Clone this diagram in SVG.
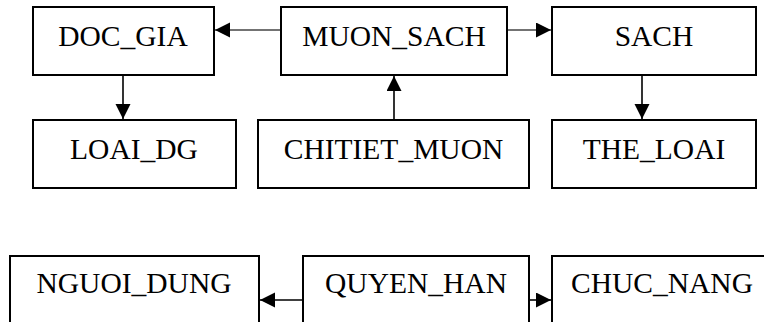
<svg xmlns="http://www.w3.org/2000/svg" width="764" height="322" viewBox="0 0 764 322">
  <style>
    .box { fill: #ffffff; stroke: #000000; stroke-width: 2; }
    .lbl { font-family: "Liberation Serif", "Times New Roman", serif; font-size: 29.5px; fill: #000000; text-anchor: middle; }
    .link { fill: none; stroke: #000000; stroke-width: 1.6; }
    .link.soft { stroke: #444444; }
  </style>
  <defs>
    <marker id="arrow" markerUnits="userSpaceOnUse" markerWidth="16" markerHeight="16" refX="15" refY="7.5" orient="auto">
      <path d="M0,0 L15,7.5 L0,15 Z" fill="#000000"/>
    </marker>
  </defs>
  <rect width="764" height="322" fill="#ffffff"/>

  <!-- connectors -->
  <g id="connectors">
    <line class="link soft" x1="281" y1="30" x2="215" y2="30" marker-end="url(#arrow)"/>
    <line class="link soft" x1="507" y1="30" x2="551" y2="30" marker-end="url(#arrow)"/>
    <line class="link" x1="123" y1="75" x2="123" y2="119" marker-end="url(#arrow)"/>
    <line class="link" x1="394" y1="120" x2="394" y2="76" marker-end="url(#arrow)"/>
    <line class="link" x1="642" y1="75" x2="642" y2="119" marker-end="url(#arrow)"/>
    <line class="link" x1="303" y1="300" x2="260" y2="300" marker-end="url(#arrow)"/>
    <line class="link" x1="529" y1="300" x2="551" y2="300" marker-end="url(#arrow)"/>
  </g>

  <!-- entities -->
  <g id="DOC_GIA">
    <rect class="box" x="33" y="7" width="181" height="68"/>
    <text class="lbl" x="123" y="46">DOC_GIA</text>
  </g>
  <g id="MUON_SACH">
    <rect class="box" x="281" y="7" width="226" height="68"/>
    <text class="lbl" x="394" y="46">MUON_SACH</text>
  </g>
  <g id="SACH">
    <rect class="box" x="552" y="7" width="204" height="68"/>
    <text class="lbl" x="654" y="46">SACH</text>
  </g>
  <g id="LOAI_DG">
    <rect class="box" x="33" y="120" width="203" height="68"/>
    <text class="lbl" x="134" y="159">LOAI_DG</text>
  </g>
  <g id="CHITIET_MUON">
    <rect class="box" x="258" y="120" width="271" height="68"/>
    <text class="lbl" x="393.5" y="159">CHITIET_MUON</text>
  </g>
  <g id="THE_LOAI">
    <rect class="box" x="552" y="120" width="204" height="68"/>
    <text class="lbl" x="654" y="159">THE_LOAI</text>
  </g>
  <g id="NGUOI_DUNG">
    <rect class="box" x="10" y="256" width="249" height="80"/>
    <text class="lbl" x="134" y="293">NGUOI_DUNG</text>
  </g>
  <g id="QUYEN_HAN">
    <rect class="box" x="303" y="256" width="226" height="80"/>
    <text class="lbl" x="416" y="293">QUYEN_HAN</text>
  </g>
  <g id="CHUC_NANG">
    <rect class="box" x="552" y="256" width="220" height="80"/>
    <text class="lbl" x="662" y="293">CHUC_NANG</text>
  </g>
</svg>
